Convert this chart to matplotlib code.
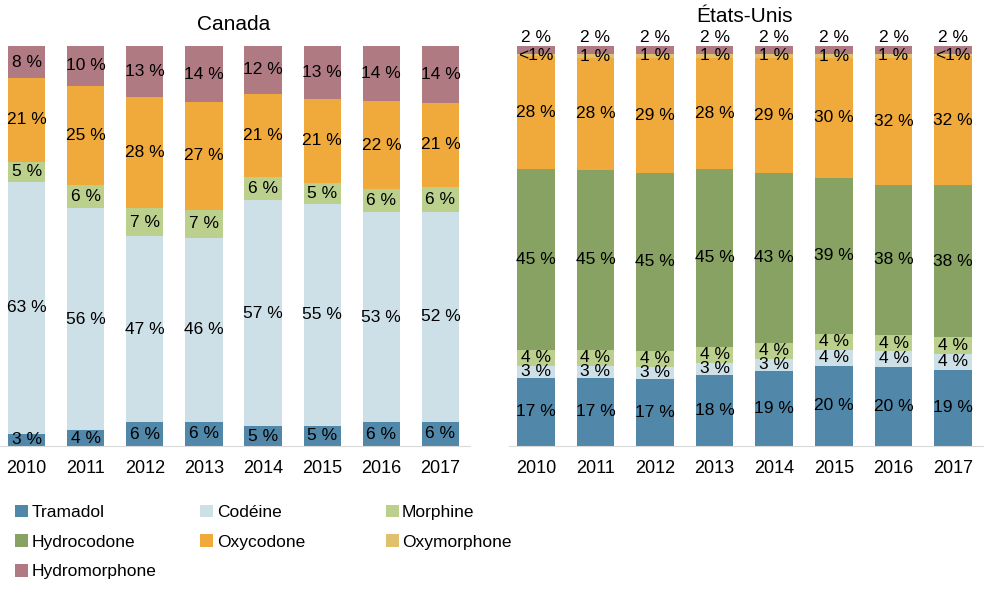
import matplotlib

matplotlib.use("Agg")
import matplotlib.pyplot as plt
from matplotlib.patches import Patch
import numpy as np

plt.rcParams["font.family"] = ["Liberation Sans", "DejaVu Sans"]

years = ["2010", "2011", "2012", "2013", "2014", "2015", "2016", "2017"]

# Canada (bottom to top)
ca_tramadol = [3, 4, 6, 6, 5, 5, 6, 6]
ca_codeine = [63, 56, 47, 46, 57, 55, 53, 52]
ca_morphine = [5, 6, 7, 7, 6, 5, 6, 6]
ca_oxycodone = [21, 25, 28, 27, 21, 21, 22, 21]
ca_hydromorphone = [8, 10, 13, 14, 12, 13, 14, 14]

# États-Unis (bottom to top); 0.5 stands for "<1"
us_tramadol = [17, 17, 17, 18, 19, 20, 20, 19]
us_codeine = [3, 3, 3, 3, 3, 4, 4, 4]
us_morphine = [4, 4, 4, 4, 4, 4, 4, 4]
us_hydrocodone = [45, 45, 45, 45, 43, 39, 38, 38]
us_oxycodone = [28, 28, 29, 28, 29, 30, 32, 32]
us_oxymorphone = [0.5, 1, 1, 1, 1, 1, 1, 0.5]
us_hydromorphone = [2, 2, 2, 2, 2, 2, 2, 2]

colors = {
    "Tramadol": "#5187a8",
    "Codéine": "#cddfe7",
    "Morphine": "#bcd08e",
    "Hydrocodone": "#87a263",
    "Oxycodone": "#f0aa3c",
    "Oxymorphone": "#dfc06c",
    "Hydromorphone": "#b07a82",
}


def fmt(v):
    return "<1%" if v < 1 else f"{v:g} %"


def draw_panel(ax, series, title, title_y, top_label_above=None):
    x = np.arange(len(years))
    total = np.sum([np.array(v, float) for _, v in series], axis=0)
    bottom = np.zeros(len(years))
    for name, vals in series:
        h = np.array(vals, float) / total * 100
        ax.bar(x, h, 0.63, bottom=bottom, color=colors[name], linewidth=0)
        for i, v in enumerate(vals):
            if name == top_label_above:
                ax.text(x[i], 100.3, fmt(v), ha="center", va="bottom",
                        fontsize=12.5, clip_on=False)
            else:
                ax.text(x[i], bottom[i] + h[i] / 2, fmt(v), ha="center",
                        va="center", fontsize=12.5)
        bottom += h
    ax.set_ylim(0, 100)
    ax.set_xlim(-0.45, 7.5)
    ax.set_xticks(x)
    ax.set_xticklabels(years, fontsize=13)
    ax.tick_params(axis="x", length=0, pad=10)
    ax.set_yticks([])
    for s in ("left", "right", "top"):
        ax.spines[s].set_visible(False)
    ax.spines["bottom"].set_color("#d9d9d9")
    ax.text(3.5, title_y, title, ha="center", va="center", fontsize=15,
            transform=ax.transData, clip_on=False)


fig = plt.figure(figsize=(9.86, 5.89), dpi=100)
ax1 = fig.add_axes([0.0, 0.2428, 0.4767, 0.6791])
ax2 = fig.add_axes([0.5162, 0.2428, 0.4807, 0.6791])

draw_panel(ax1, [("Tramadol", ca_tramadol), ("Codéine", ca_codeine),
                 ("Morphine", ca_morphine), ("Oxycodone", ca_oxycodone),
                 ("Hydromorphone", ca_hydromorphone)], "Canada", 105.5)
draw_panel(ax2, [("Tramadol", us_tramadol), ("Codéine", us_codeine),
                 ("Morphine", us_morphine), ("Hydrocodone", us_hydrocodone),
                 ("Oxycodone", us_oxycodone), ("Oxymorphone", us_oxymorphone),
                 ("Hydromorphone", us_hydromorphone)], "États-Unis", 107.3,
           top_label_above="Hydromorphone")

columns = [["Tramadol", "Hydrocodone", "Hydromorphone"],
           ["Codéine", "Oxycodone"],
           ["Morphine", "Oxymorphone"]]
col_x = [0.015, 0.203, 0.391]
for cx, names in zip(col_x, columns):
    handles = [Patch(facecolor=colors[n], label=n) for n in names]
    fig.legend(handles=handles, loc="upper left", bbox_to_anchor=(cx, 0.143),
               frameon=False, fontsize=12.5, handlelength=0.75,
               handleheight=0.75, handletextpad=0.2, labelspacing=0.82,
               borderaxespad=0, borderpad=0)

fig.savefig("out.png", dpi=100)
